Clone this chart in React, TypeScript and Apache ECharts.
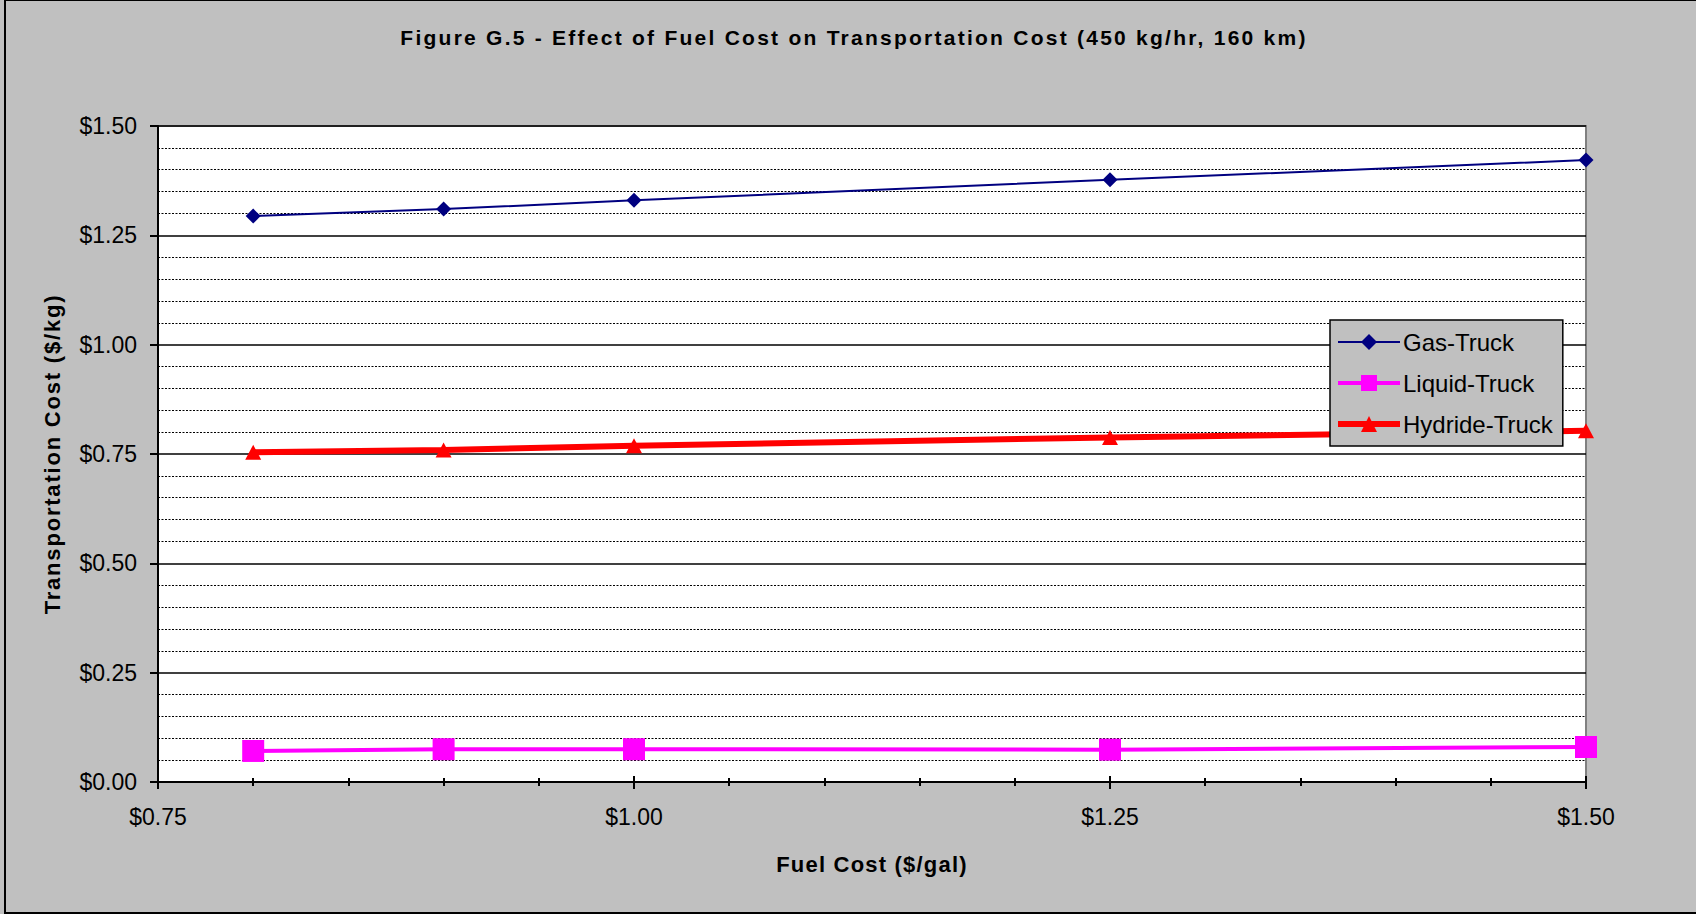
import React, { useEffect, useRef } from "react";
import * as echarts from "echarts";

const TITLE = "Figure G.5 - Effect of Fuel Cost on Transportation Cost (450 kg/hr, 160 km)";
const X_NAME = "Fuel Cost ($/gal)";
const Y_NAME = "Transportation Cost ($/kg)";

const fuelCost = [0.8, 0.9, 1.0, 1.25, 1.5];
const gasTruck = [1.294, 1.31, 1.33, 1.377, 1.422];
const liquidTruck = [0.071, 0.075, 0.075, 0.074, 0.08];
const hydrideTruck = [0.754, 0.759, 0.769, 0.788, 0.803];
const seriesNames = ["Gas-Truck", "Liquid-Truck", "Hydride-Truck"];

const FONT = "'Liberation Sans', Arial, sans-serif";
const money = (v: number) => "$" + v.toFixed(2);

export default function App() {
  const ref = useRef<HTMLDivElement>(null);
  useEffect(() => {
    const el = ref.current!;
    const chart = echarts.init(el, undefined, { renderer: "svg" });
    const pairs = (ys: number[]) => fuelCost.map((x, i) => [x, ys[i]]);
    const xCommon = {
      type: "value",
      min: 0.75,
      max: 1.5,
      interval: 0.25,
      position: "bottom",
      splitLine: { show: false },
      minorSplitLine: { show: false },
    };
    chart.setOption({
      animation: false,
      backgroundColor: "#C0C0C0",
      title: {
        text: TITLE,
        left: 849,
        top: 22,
        textAlign: "center",
        textStyle: { fontFamily: FONT, fontWeight: "bold", fontSize: 21, color: "#000" },
      },
      grid: {
        left: 158,
        top: 126,
        right: 110,
        bottom: 132,
        show: true,
        backgroundColor: "#fff",
        borderColor: "#808080",
        borderWidth: 2,
      },
      legend: {
        orient: "vertical",
        left: 1330,
        top: 320,
        data: [
          { name: seriesNames[0], lineStyle: { width: 2 } },
          { name: seriesNames[1], lineStyle: { width: 4 } },
          { name: seriesNames[2], lineStyle: { width: 6 } },
        ],
        backgroundColor: "#C0C0C0",
        borderColor: "#000",
        borderWidth: 1.5,
        borderRadius: 0,
        padding: [10, 10, 10, 5],
        itemWidth: 62,
        itemHeight: 20,
        itemGap: 17,
        textStyle: { fontFamily: FONT, fontSize: 24, color: "#000", lineHeight: 24, padding: [0, 0, 0, -2] },
      },
      xAxis: [
        {
          ...xCommon,
          axisLine: { show: true, lineStyle: { color: "#000", width: 2 } },
          axisTick: { show: true, inside: false, length: 7, lineStyle: { color: "#000", width: 2 } },
          minorTick: { show: true, splitNumber: 5, length: 4, lineStyle: { color: "#000", width: 2 } },
          axisLabel: { formatter: money, margin: 23, fontSize: 23, color: "#000", fontFamily: FONT },
          name: X_NAME,
          nameLocation: "middle",
          nameGap: 71,
          nameTextStyle: { fontFamily: FONT, fontWeight: "bold", fontSize: 22, color: "#000" },
        },
        {
          ...xCommon,
          axisLine: { show: false },
          axisTick: { show: true, inside: true, length: 6, lineStyle: { color: "#000", width: 2 } },
          minorTick: { show: true, splitNumber: 5, length: 4, lineStyle: { color: "#000", width: 2 } },
          axisLabel: { show: false },
        },
      ],
      yAxis: {
        type: "value",
        min: 0,
        max: 1.5,
        interval: 0.25,
        axisLine: { show: true, lineStyle: { color: "#000", width: 2 } },
        axisTick: { show: true, inside: false, length: 8, lineStyle: { color: "#000", width: 2 } },
        minorTick: { show: false, splitNumber: 5 },
        splitLine: { show: true, lineStyle: { color: "#000", width: 1.5 } },
        minorSplitLine: { show: true, lineStyle: { color: "#000", width: 1.2, type: [2, 1.5] } },
        axisLabel: { formatter: money, margin: 21, fontSize: 23, color: "#000", fontFamily: FONT },
        name: Y_NAME,
        nameLocation: "middle",
        nameGap: 95,
        nameTextStyle: { fontFamily: FONT, fontWeight: "bold", fontSize: 22, color: "#000" },
      },
      series: [
        {
          name: seriesNames[0],
          type: "line",
          data: pairs(gasTruck),
          color: "#000080",
          lineStyle: { width: 2, color: "#000080" },
          symbol: "diamond",
          symbolSize: 15,
          clip: false,
          z: 3,
        },
        {
          name: seriesNames[1],
          type: "line",
          data: pairs(liquidTruck),
          color: "#FF00FF",
          lineStyle: { width: 4, color: "#FF00FF" },
          symbol: "rect",
          symbolSize: 22,
          clip: false,
          z: 3,
        },
        {
          name: seriesNames[2],
          type: "line",
          data: pairs(hydrideTruck),
          color: "#FF0000",
          lineStyle: { width: 6, color: "#FF0000" },
          symbol: "triangle",
          symbolSize: [16, 15],
          clip: false,
          z: 3,
        },
      ],
      graphic: [
        {
          type: "rect",
          shape: { x: 5, y: 0, width: 1800, height: 913 },
          style: { fill: "none", stroke: "#000", lineWidth: 2 },
          silent: true,
          z: 100,
        },
      ],
    });
    const applySpacing = () => {
      el.querySelectorAll("text").forEach((t) => {
        const s = t.textContent;
        if (s === TITLE) t.setAttribute("letter-spacing", "2.25");
        else if (s === Y_NAME) t.setAttribute("letter-spacing", "1.8");
        else if (s === X_NAME) t.setAttribute("letter-spacing", "1.2");
      });
    };
    chart.on("finished", applySpacing);
    applySpacing();
    const timer = setTimeout(applySpacing, 50);
    return () => {
      clearTimeout(timer);
      chart.dispose();
    };
  }, []);
  return (
    <div
      ref={ref}
      style={{ position: "fixed", left: 0, top: 0, width: 1696, height: 914 }}
    />
  );
}
